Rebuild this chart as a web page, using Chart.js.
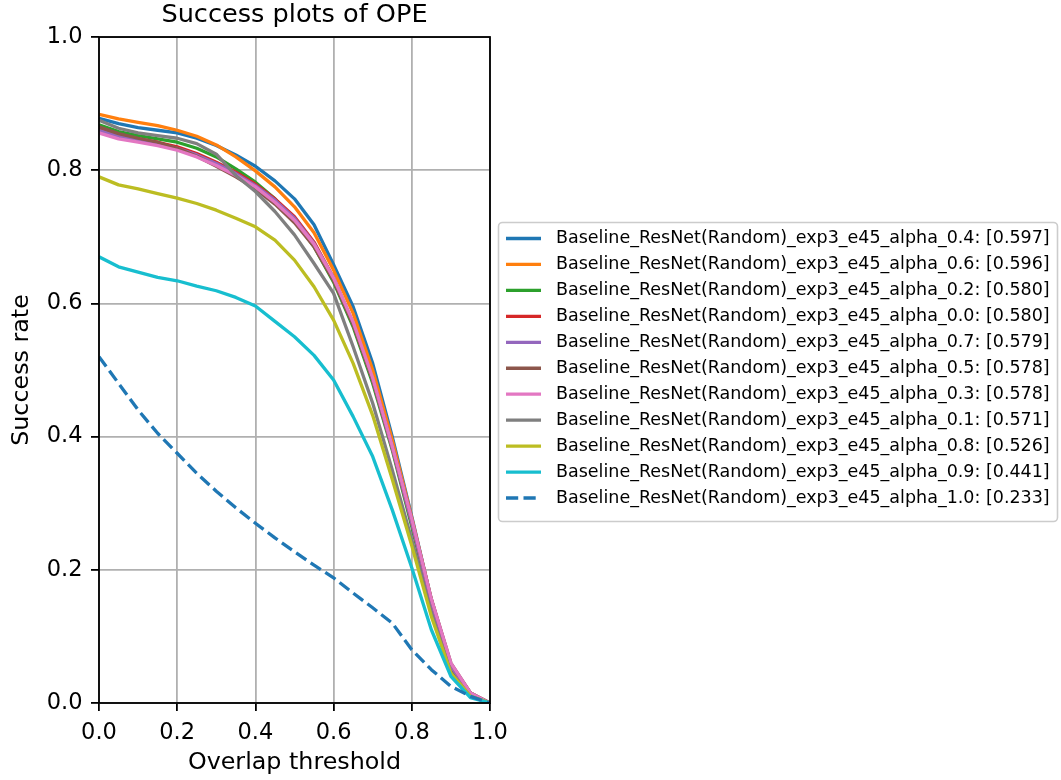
<!DOCTYPE html>
<html>
<head>
<meta charset="utf-8">
<title>Success plots of OPE</title>
<script src="https://cdn.jsdelivr.net/npm/chart.js@4.4.0/dist/chart.umd.min.js"></script>
<style>
  html, body { margin: 0; padding: 0; background: #ffffff; }
  #wrap { width: 1061px; height: 780px; }
</style>
</head>
<body>
<div id="wrap"><canvas id="c" width="1061" height="780"></canvas></div>
<script>
// Overlap thresholds (x axis)
const thresholds = [0, 0.05, 0.1, 0.15, 0.2, 0.25, 0.3, 0.35, 0.4, 0.45, 0.5,
                    0.55, 0.6, 0.65, 0.7, 0.75, 0.8, 0.85, 0.9, 0.95, 1.0];
const xTicks = [0, 0.2, 0.4, 0.6, 0.8, 1.0];
const yTicks = [0, 0.2, 0.4, 0.6, 0.8, 1.0];

// Success rate per threshold for each alpha setting
const alpha04 = [0.878, 0.870, 0.864, 0.860, 0.856, 0.848, 0.837, 0.823, 0.806, 0.784, 0.757, 0.718, 0.658, 0.595, 0.510, 0.400, 0.280, 0.155, 0.057, 0.015, 0];
const alpha06 = [0.884, 0.877, 0.872, 0.867, 0.860, 0.851, 0.838, 0.820, 0.799, 0.775, 0.745, 0.706, 0.650, 0.585, 0.500, 0.395, 0.278, 0.155, 0.057, 0.015, 0];
const alpha02 = [0.868, 0.858, 0.852, 0.847, 0.842, 0.833, 0.820, 0.802, 0.782, 0.757, 0.725, 0.685, 0.632, 0.565, 0.480, 0.380, 0.265, 0.145, 0.050, 0.012, 0];
const alpha00 = [0.862, 0.853, 0.847, 0.842, 0.835, 0.825, 0.812, 0.797, 0.779, 0.757, 0.730, 0.692, 0.638, 0.570, 0.485, 0.383, 0.270, 0.150, 0.055, 0.014, 0];
const alpha07 = [0.860, 0.851, 0.845, 0.840, 0.833, 0.823, 0.810, 0.795, 0.777, 0.755, 0.728, 0.690, 0.638, 0.570, 0.485, 0.383, 0.270, 0.150, 0.055, 0.014, 0];
const alpha05 = [0.865, 0.855, 0.848, 0.842, 0.833, 0.821, 0.806, 0.790, 0.772, 0.749, 0.721, 0.685, 0.634, 0.568, 0.485, 0.386, 0.276, 0.156, 0.060, 0.015, 0];
const alpha03 = [0.856, 0.847, 0.842, 0.837, 0.830, 0.820, 0.807, 0.792, 0.775, 0.752, 0.725, 0.689, 0.638, 0.572, 0.488, 0.386, 0.276, 0.156, 0.060, 0.015, 0];
const alpha01 = [0.875, 0.863, 0.856, 0.852, 0.848, 0.840, 0.824, 0.792, 0.768, 0.738, 0.703, 0.660, 0.615, 0.535, 0.450, 0.350, 0.245, 0.135, 0.045, 0.010, 0];
const alpha08 = [0.790, 0.778, 0.772, 0.765, 0.758, 0.750, 0.740, 0.728, 0.715, 0.695, 0.665, 0.625, 0.575, 0.510, 0.432, 0.336, 0.236, 0.130, 0.045, 0.010, 0];
const alpha09 = [0.670, 0.655, 0.647, 0.639, 0.634, 0.626, 0.619, 0.609, 0.596, 0.573, 0.550, 0.522, 0.485, 0.430, 0.370, 0.290, 0.203, 0.110, 0.040, 0.008, 0];
const alpha10 = [0.520, 0.480, 0.440, 0.405, 0.375, 0.345, 0.318, 0.293, 0.270, 0.248, 0.227, 0.207, 0.188, 0.165, 0.143, 0.120, 0.080, 0.050, 0.025, 0.010, 0];

// Tracker names and their area-under-curve scores
const trackerNames = [
  'Baseline_ResNet(Random)_exp3_e45_alpha_0.4',
  'Baseline_ResNet(Random)_exp3_e45_alpha_0.6',
  'Baseline_ResNet(Random)_exp3_e45_alpha_0.2',
  'Baseline_ResNet(Random)_exp3_e45_alpha_0.0',
  'Baseline_ResNet(Random)_exp3_e45_alpha_0.7',
  'Baseline_ResNet(Random)_exp3_e45_alpha_0.5',
  'Baseline_ResNet(Random)_exp3_e45_alpha_0.3',
  'Baseline_ResNet(Random)_exp3_e45_alpha_0.1',
  'Baseline_ResNet(Random)_exp3_e45_alpha_0.8',
  'Baseline_ResNet(Random)_exp3_e45_alpha_0.9',
  'Baseline_ResNet(Random)_exp3_e45_alpha_1.0'
];
const aucScores = [0.597, 0.596, 0.580, 0.580, 0.579, 0.578, 0.578, 0.571, 0.526, 0.441, 0.233];
const successRates = [alpha04, alpha06, alpha02, alpha00, alpha07, alpha05, alpha03, alpha01, alpha08, alpha09, alpha10];

// Styling
const lineColors = ['#1f77b4', '#ff7f0e', '#2ca02c', '#d62728', '#9467bd', '#8c564b',
                    '#e377c2', '#7f7f7f', '#bcbd22', '#17becf', '#1f77b4'];
const dashPattern = [12.2, 5.3];
const isDashed = i => i === successRates.length - 1;
const LINE_W = 3.3;
const FONT = "'DejaVu Sans', 'Liberation Sans', sans-serif";

Chart.defaults.font.family = FONT;
Chart.defaults.color = '#000000';

const datasets = successRates.map((vals, i) => ({
  label: trackerNames[i] + ': [' + aucScores[i].toFixed(3) + ']',
  data: thresholds.map((t, k) => ({ x: t, y: vals[k] })),
  borderColor: lineColors[i],
  backgroundColor: lineColors[i],
  borderWidth: LINE_W,
  borderDash: isDashed(i) ? dashPattern : [],
  borderCapStyle: 'butt',
  borderJoinStyle: 'round',
  pointRadius: 0,
  fill: false,
  tension: 0,
  order: successRates.length - 1 - i
}));

// Full black frame around the plotting area
const framePlugin = {
  id: 'frame',
  afterDatasetsDraw(chart) {
    const { ctx, chartArea: a } = chart;
    ctx.save();
    ctx.strokeStyle = '#000000';
    ctx.lineWidth = 1.8;
    ctx.strokeRect(a.left, a.top, a.right - a.left, a.bottom - a.top);
    ctx.restore();
  }
};

// Boxed legend to the right of the plot
const sideLegendPlugin = {
  id: 'sideLegend',
  afterDraw(chart) {
    const { ctx } = chart;
    const box = { x: 498.5, y: 222.5, w: 559, h: 299, r: 4 };
    const rowStart = 238.5, rowStep = 25.95;
    const lineX0 = 506, lineX1 = 541, textX = 556;
    ctx.save();
    ctx.beginPath();
    ctx.moveTo(box.x + box.r, box.y);
    ctx.arcTo(box.x + box.w, box.y, box.x + box.w, box.y + box.h, box.r);
    ctx.arcTo(box.x + box.w, box.y + box.h, box.x, box.y + box.h, box.r);
    ctx.arcTo(box.x, box.y + box.h, box.x, box.y, box.r);
    ctx.arcTo(box.x, box.y, box.x + box.w, box.y, box.r);
    ctx.closePath();
    ctx.fillStyle = 'rgba(255,255,255,0.8)';
    ctx.fill();
    ctx.strokeStyle = '#cccccc';
    ctx.lineWidth = 1.6;
    ctx.stroke();

    ctx.font = '17.5px ' + FONT;
    ctx.textBaseline = 'middle';
    ctx.textAlign = 'left';
    chart.data.datasets.forEach((ds, i) => {
      const y = rowStart + i * rowStep;
      ctx.beginPath();
      ctx.strokeStyle = ds.borderColor;
      ctx.lineWidth = LINE_W;
      ctx.lineCap = 'butt';
      ctx.setLineDash(ds.borderDash || []);
      ctx.moveTo(lineX0, y);
      ctx.lineTo(lineX1, y);
      ctx.stroke();
      ctx.setLineDash([]);
      ctx.fillStyle = '#000000';
      ctx.fillText(ds.label, textX, y);
    });
    ctx.restore();
  }
};

const gridStyle = {
  color: '#b0b0b0',
  lineWidth: 1.8,
  drawTicks: true,
  tickLength: 8,
  tickColor: '#000000',
  tickWidth: 1.8
};

new Chart(document.getElementById('c'), {
  type: 'line',
  data: { datasets },
  plugins: [framePlugin, sideLegendPlugin],
  options: {
    responsive: false,
    animation: false,
    devicePixelRatio: 1,
    layout: { padding: { left: 0, right: 571, top: 0, bottom: 0 } },
    plugins: {
      legend: { display: false },
      tooltip: { enabled: false },
      title: {
        display: true,
        text: 'Success plots of OPE',
        fullSize: false,
        color: '#000000',
        font: { size: 25.6, weight: 'normal', family: FONT, lineHeight: 1.2 },
        padding: { top: 0, bottom: 6.3 }
      }
    },
    scales: {
      x: {
        type: 'linear',
        min: 0, max: 1,
        afterBuildTicks: s => { s.ticks = xTicks.map(v => ({ value: v })); },
        afterFit: s => { s.height = 77; },
        grid: gridStyle,
        border: { display: false },
        ticks: {
          padding: 9,
          color: '#000000',
          font: { size: 22.5, family: FONT },
          maxRotation: 0,
          callback: v => Number(v).toFixed(1)
        },
        title: {
          display: true,
          text: 'Overlap threshold',
          color: '#000000',
          font: { size: 23.8, family: FONT, lineHeight: 1.2 },
          padding: { top: 0, bottom: 3 }
        }
      },
      y: {
        type: 'linear',
        min: 0, max: 1,
        afterBuildTicks: s => { s.ticks = yTicks.map(v => ({ value: v })); },
        afterFit: s => { s.width = 99; },
        grid: gridStyle,
        border: { display: false },
        ticks: {
          padding: 8.5,
          color: '#000000',
          font: { size: 22.5, family: FONT },
          callback: v => Number(v).toFixed(1)
        },
        title: {
          display: true,
          text: 'Success rate',
          color: '#000000',
          font: { size: 23.8, family: FONT, lineHeight: 1.2 },
          padding: { top: 8, bottom: 0 }
        }
      }
    }
  }
});
</script>
</body>
</html>
